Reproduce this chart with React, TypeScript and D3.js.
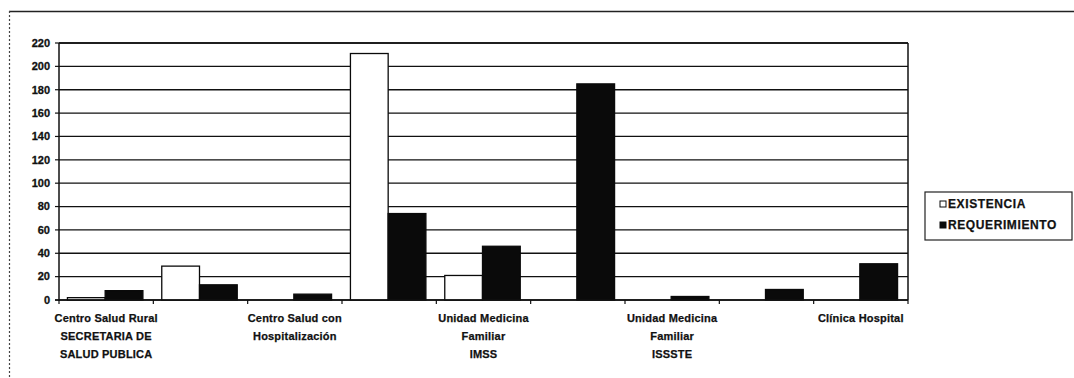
import React from "react";
import * as d3 from "d3";

const categories: string[] = [
  "Centro Salud Rural\nSECRETARIA DE\nSALUD PUBLICA",
  "",
  "Centro Salud con\nHospitalización",
  "",
  "Unidad Medicina\nFamiliar\nIMSS",
  "",
  "Unidad Medicina\nFamiliar\nISSSTE",
  "",
  "Clínica Hospital",
];
const existencia: number[] = [2, 29, 0, 211, 21, 0, 0, 0, 0];
const requerimiento: number[] = [8, 13, 5, 74, 46, 185, 3, 9, 31];
const yTicks: number[] = [0, 20, 40, 60, 80, 100, 120, 140, 160, 180, 200, 220];
const seriesNames: string[] = ["EXISTENCIA", "REQUERIMIENTO"];

const W = 1074;
const H = 378;
const left = 59;
const right = 908;
const top = 43;
const bottom = 300;
const font = "'Liberation Sans', Arial, sans-serif";

export default function App() {
  const idx = categories.map((_, i) => String(i));
  const x = d3.scaleBand<string>().domain(idx).range([left, right]).padding(0);
  const y = d3.scaleLinear().domain([0, 220]).range([bottom, top]);
  const bw = x.bandwidth();
  const barW = bw * 0.4;
  const off = (bw - 2 * barW) / 2 - 1;
  const series = [existencia, requerimiento];

  return (
    <svg width={W} height={H} style={{ position: "absolute", left: 0, top: 0, background: "#fff" }}>
      {/* outer frame */}
      <line x1={9} y1={11.5} x2={W} y2={11.5} stroke="#222" strokeWidth={1.3} />
      <line x1={9.5} y1={11} x2={9.5} y2={H} stroke="#444" strokeWidth={1.2} strokeDasharray="2,2" />

      {/* gridlines */}
      {yTicks.map((t) => (
        <line key={"g" + t} x1={left} x2={right} y1={y(t)} y2={y(t)} stroke="#111" strokeWidth={1.3} />
      ))}
      {/* y tick marks and labels */}
      {yTicks.map((t) => (
        <g key={"t" + t}>
          <line x1={left - 4} x2={left} y1={y(t)} y2={y(t)} stroke="#111" strokeWidth={1.2} />
          <text x={50} y={y(t)} dy="0.35em" textAnchor="end" fontFamily={font} fontWeight="bold" fontSize={11} fill="#111" stroke="#111" strokeWidth={0.3}>
            {t}
          </text>
        </g>
      ))}

      {/* bars */}
      {series.map((vals, s) =>
        vals.map((v, i) => {
          const bx = (x(String(i)) as number) + off + s * barW;
          return (
            <rect
              key={`b${s}-${i}`}
              x={bx}
              y={y(v)}
              width={barW}
              height={bottom - y(v)}
              fill={s === 0 ? "#fff" : "#0a0a0a"}
              stroke="#0a0a0a"
              strokeWidth={1.3}
            />
          );
        })
      )}

      {/* plot border */}
      <line x1={left} x2={left} y1={top} y2={bottom + 1} stroke="#111" strokeWidth={1.5} />
      <line x1={right} x2={right} y1={top} y2={bottom} stroke="#111" strokeWidth={1.5} />
      <line x1={left} x2={right} y1={top} y2={top} stroke="#111" strokeWidth={1.5} />
      <line x1={left - 4} x2={right} y1={bottom} y2={bottom} stroke="#111" strokeWidth={1.5} />

      {/* x tick marks */}
      {[...idx.map((k) => x(k) as number), right].map((px, i) => (
        <line key={"xt" + i} x1={px} x2={px} y1={bottom} y2={bottom + 4} stroke="#111" strokeWidth={1.2} />
      ))}

      {/* category labels */}
      {categories.map((c, i) => {
        if (!c) return null;
        const cx = (x(String(i)) as number) + bw / 2;
        return (
          <text key={"c" + i} x={cx} y={322} textAnchor="middle" fontFamily={font} fontWeight="bold" fontSize={11} fill="#111" stroke="#111" strokeWidth={0.25} letterSpacing={0.2}>
            {c.split("\n").map((line, j) => (
              <tspan key={j} x={cx} dy={j === 0 ? 0 : 18}>
                {line}
              </tspan>
            ))}
          </text>
        );
      })}

      {/* legend */}
      <rect x={925} y={192} width={147} height={48} fill="#fff" stroke="#222" strokeWidth={1.2} />
      {seriesNames.map((n, i) => (
        <g key={"l" + i}>
          <rect x={940} y={201 + i * 21} width={6} height={6} fill={i === 0 ? "#fff" : "#0a0a0a"} stroke="#0a0a0a" strokeWidth={1} />
          <text x={948} y={204 + i * 21} dy="0.35em" fontFamily={font} fontWeight="bold" fontSize={12} fill="#111" stroke="#111" strokeWidth={0.25} letterSpacing={0.6}>
            {n}
          </text>
        </g>
      ))}
    </svg>
  );
}
